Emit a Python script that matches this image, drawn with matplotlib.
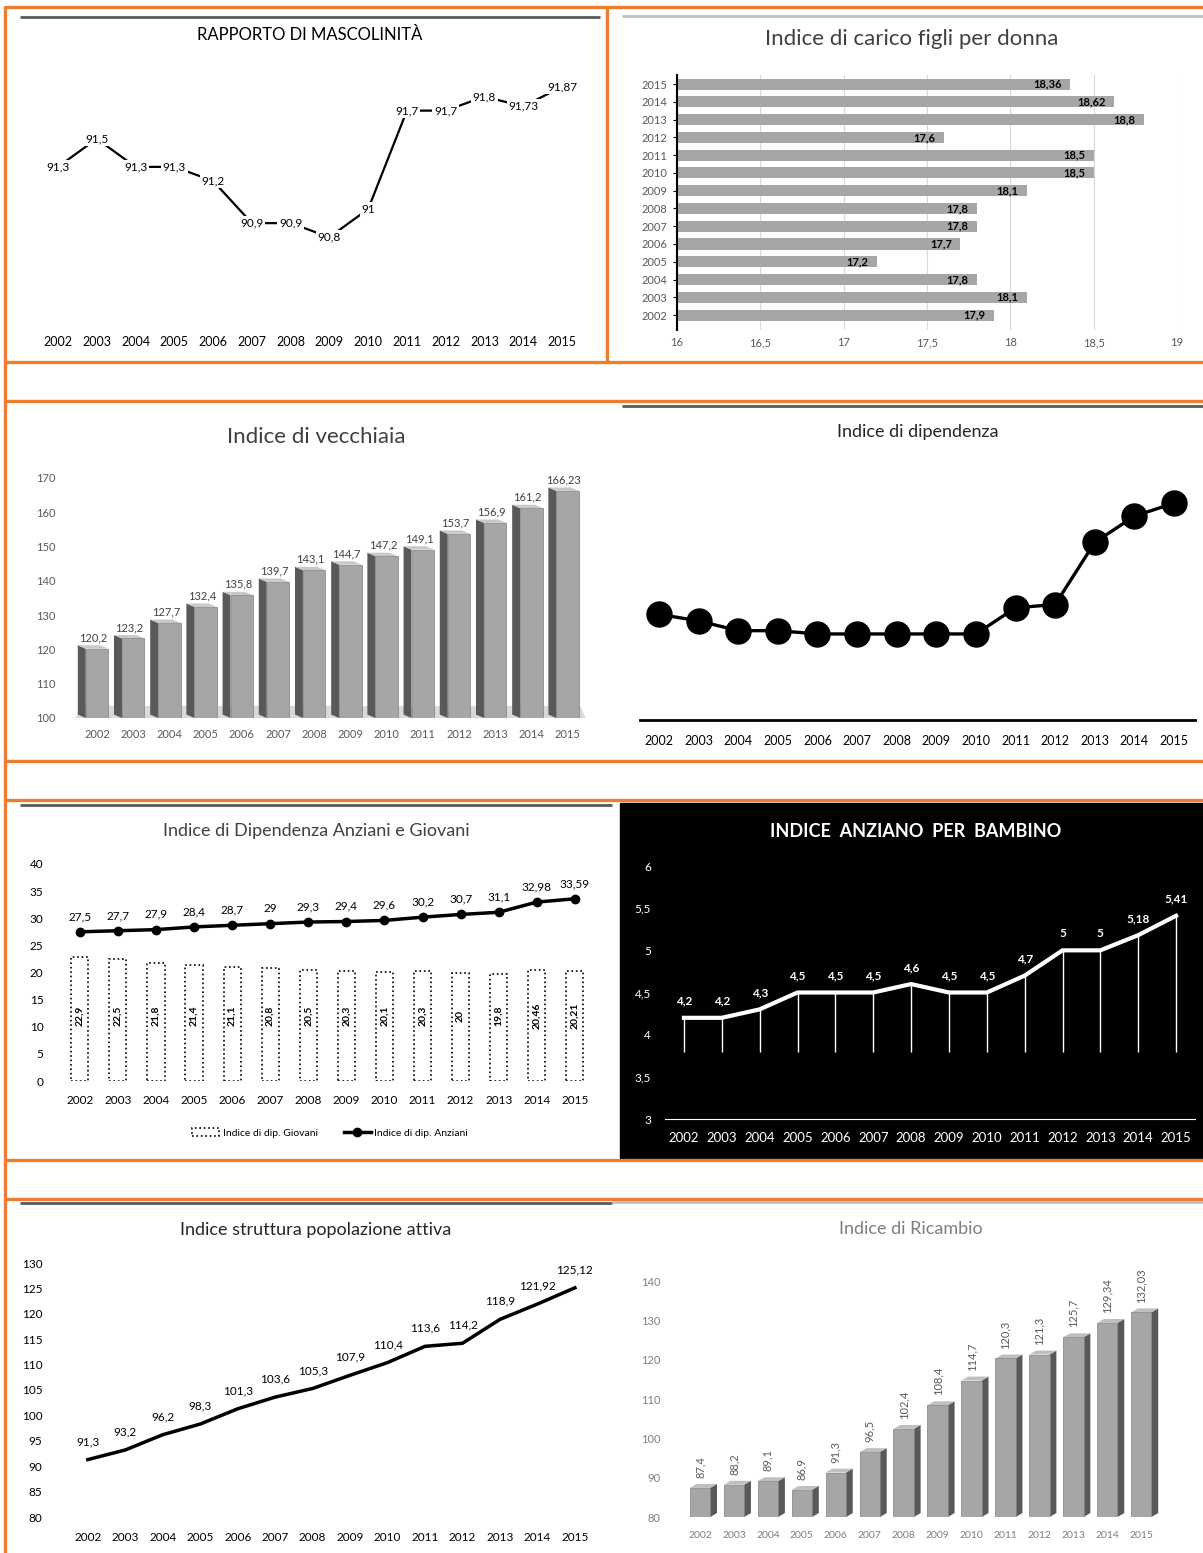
import numpy as np
import matplotlib
matplotlib.use("Agg")
import matplotlib.pyplot as plt
from matplotlib.lines import Line2D
from matplotlib.patches import Polygon, Rectangle
from matplotlib.ticker import FuncFormatter

plt.rcParams['font.family'] = ['Lato', 'DejaVu Sans']

# --- dati ---
anni = ['2002', '2003', '2004', '2005', '2006', '2007', '2008',
        '2009', '2010', '2011', '2012', '2013', '2014', '2015']

mascolinita = [91.3, 91.5, 91.3, 91.3, 91.2, 90.9, 90.9,
               90.8, 91.0, 91.7, 91.7, 91.8, 91.73, 91.87]

figli_donna = [17.9, 18.1, 17.8, 17.2, 17.7, 17.8, 17.8,
               18.1, 18.5, 18.5, 17.6, 18.8, 18.62, 18.36]
figli_ticks = [16, 16.5, 17, 17.5, 18, 18.5, 19]

vecchiaia = [120.2, 123.2, 127.7, 132.4, 135.8, 139.7, 143.1,
             144.7, 147.2, 149.1, 153.7, 156.9, 161.2, 166.23]

dipendenza = [50.3, 50.1, 49.8, 49.8, 49.7, 49.7, 49.7,
              49.7, 49.7, 50.5, 50.6, 52.5, 53.3, 53.7]

dip_anziani = [27.5, 27.7, 27.9, 28.4, 28.7, 29, 29.3,
               29.4, 29.6, 30.2, 30.7, 31.1, 32.98, 33.59]
dip_giovani = [22.9, 22.5, 21.8, 21.4, 21.1, 20.8, 20.5,
               20.3, 20.1, 20.3, 20, 19.8, 20.46, 20.21]

anziano_bambino = [4.2, 4.2, 4.3, 4.5, 4.5, 4.5, 4.6,
                   4.5, 4.5, 4.7, 5, 5, 5.18, 5.41]

struttura_attiva = [91.3, 93.2, 96.2, 98.3, 101.3, 103.6, 105.3,
                    107.9, 110.4, 113.6, 114.2, 118.9, 121.92, 125.12]

ricambio = [87.4, 88.2, 89.1, 86.9, 91.3, 96.5, 102.4,
            108.4, 114.7, 120.3, 121.3, 125.7, 129.34, 132.03]

W, H = 1203, 1553
ARANCIO = '#ED7D31'

fig = plt.figure(figsize=(W / 100, H / 100), dpi=100)
fig.patch.set_facecolor('white')


def axes_px(x0, y0, x1, y1, **kw):
    return fig.add_axes([x0 / W, 1 - y1 / H, (x1 - x0) / W, (y1 - y0) / H], **kw)


def line_px(x0, y0, x1, y1, color, lw):
    fig.add_artist(Line2D([x0 / W, x1 / W], [1 - y0 / H, 1 - y1 / H],
                          color=color, lw=lw, transform=fig.transFigure,
                          solid_capstyle='butt'))


def titolo(x, y, s, **kw):
    fig.text(x / W, 1 - y / H, s, ha='center', va='center', **kw)


def fmt(v):
    return f"{v:g}".replace('.', ',')


virgola = FuncFormatter(lambda v, p: fmt(round(v, 2)))


def pulisci(ax, spines=()):
    for k, s in ax.spines.items():
        s.set_visible(k in spines)


def barre_3d(ax, x, vals, base, w, dx, dy, front, side, top):
    for xi, v in zip(x, vals):
        xl, xr = xi - w / 2, xi + w / 2
        edge = xr if dx > 0 else xl
        ax.add_patch(Polygon([(edge, base), (edge, v), (edge + dx, v + dy),
                              (edge + dx, base + dy)], fc=side, ec='none', zorder=2))
        ax.add_patch(Polygon([(xl, v), (xr, v), (xr + dx, v + dy), (xl + dx, v + dy)],
                             fc=top, ec='none', zorder=2))
    ax.bar(x, [v - base for v in vals], bottom=base, width=w, color=front,
           edgecolor='#808080', lw=0.5, zorder=3)


x = np.arange(len(anni))

# --- cornici arancioni e linee grigie ---
fig.add_artist(Rectangle((620 / W, 1 - 1158 / H), (W - 620) / W, (1158 - 803) / H,
                         color='black', transform=fig.transFigure, zorder=0))
for yy in [7, 362, 401, 761, 800, 1160, 1199]:
    line_px(4, yy, W, yy, ARANCIO, 2.4)
line_px(5, 6, 5, H, ARANCIO, 2.4)
line_px(607, 6, 607, 362, ARANCIO, 2.4)
line_px(20, 17, 600, 17, '#595959', 2)
line_px(622, 16, W, 16, '#bfbfbf', 2)
line_px(622, 406, W, 406, '#595959', 2)
line_px(20, 805, 612, 805, '#595959', 2)
line_px(20, 1203, 612, 1203, '#595959', 2)
line_px(612, 1202, W, 1202, '#bfbfbf', 2)

# --- Rapporto di mascolinità ---
titolo(310, 35, 'RAPPORTO DI MASCOLINITÀ', fontsize=12, color='black')
ax = axes_px(20, 60, 600, 330)
ax.plot(x, mascolinita, color='black', lw=1.6, zorder=1)
for xi, v in zip(x, mascolinita):
    ax.text(xi, v, fmt(v), ha='center', va='center', fontsize=8.5,
            bbox=dict(fc='white', ec='none', pad=1.2), zorder=3)
ax.set_xlim(-0.98, 13.98)
ax.set_ylim(90.14, 92.06)
ax.set_xticks(x, anni, fontsize=9)
ax.set_yticks([])
ax.tick_params(axis='x', length=0, pad=4)
pulisci(ax)

# --- Indice di carico figli per donna ---
titolo(912, 39, 'Indice di carico figli per donna', fontsize=16, color='#404040')
ax = axes_px(677, 75, 1177, 330)
ax.barh(x, figli_donna, height=0.62, color='#a6a6a6', zorder=2)
for yi, v in zip(x, figli_donna):
    ax.text(v - 0.05, yi, fmt(v), ha='right', va='center', fontsize=8,
            fontweight='bold', zorder=3)
ax.set_xlim(16, 19)
ax.set_ylim(-0.84, 13.51)
ax.set_xticks(figli_ticks)
ax.xaxis.set_major_formatter(virgola)
ax.set_yticks(x, anni)
ax.xaxis.grid(True, color='#d9d9d9', lw=0.8)
ax.set_axisbelow(True)
ax.tick_params(axis='x', length=0, labelsize=8, labelcolor='#595959', pad=5)
ax.tick_params(axis='y', length=3, labelsize=8, labelcolor='#595959', pad=4)
pulisci(ax, ['left'])
ax.spines['left'].set_linewidth(1.5)

# --- Indice di vecchiaia ---
titolo(316, 437, 'Indice di vecchiaia', fontsize=16, color='#404040')
ax = axes_px(72, 478, 590, 718)
ax.add_patch(Polygon([(-0.6, 100), (13.5, 100), (13.35, 103.5), (-0.4, 103.5)],
                     fc='#d9d9d9', ec='none', zorder=1))
barre_3d(ax, x, vecchiaia, 100, 0.62, -0.22, 1.0, '#a6a6a6', '#595959', '#c8c8c8')
for xi, v in zip(x, vecchiaia):
    ax.text(xi - 0.1, v + 1.6, fmt(v), ha='center', va='bottom', fontsize=8,
            color='#404040', zorder=4)
ax.set_xlim(-0.69, 13.62)
ax.set_ylim(100, 170)
ax.set_yticks(range(100, 171, 10))
ax.set_xticks(x, anni)
ax.tick_params(length=0, labelsize=8, labelcolor='#595959')
ax.tick_params(axis='y', pad=12)
ax.tick_params(axis='x', pad=8)
pulisci(ax)

# --- Indice di dipendenza ---
titolo(918, 432, 'Indice di dipendenza', fontsize=13, color='#262626')
ax = axes_px(640, 455, 1195, 720)
ax.plot(x, dipendenza, color='black', lw=2.4, marker='o', ms=18)
ax.set_xlim(-0.48, 13.53)
ax.set_ylim(47.07, 55.17)
ax.set_yticks([])
ax.set_xticks(x, anni, fontsize=9)
ax.tick_params(axis='x', length=0, pad=11)
pulisci(ax, ['bottom'])
ax.spines['bottom'].set_linewidth(2)

# --- Indice di Dipendenza Anziani e Giovani ---
titolo(316, 831, 'Indice di Dipendenza Anziani e Giovani', fontsize=13, color='#404040')
ax = axes_px(60, 864, 600, 1081)
barre = ax.bar(x, dip_giovani, width=0.45, fc='white', ec='black', ls=':', lw=1.2,
               zorder=2)
for xi, v in zip(x, dip_giovani):
    ax.text(xi, 12, fmt(v), ha='center', va='center', rotation=90, fontsize=7.5,
            fontweight='bold', zorder=3)
linea, = ax.plot(x, dip_anziani, color='black', lw=2.5, marker='o', ms=6, zorder=4)
for xi, v in zip(x, dip_anziani):
    ax.annotate(fmt(v), (xi, v), xytext=(0, 7), textcoords='offset points',
                ha='center', va='bottom', fontsize=8.5)
ax.set_xlim(-0.52, 13.66)
ax.set_ylim(0, 40)
ax.set_yticks(range(0, 41, 5))
ax.set_xticks(x, anni)
ax.tick_params(length=0, labelsize=8.5)
ax.tick_params(axis='y', pad=12)
ax.tick_params(axis='x', pad=10)
pulisci(ax)
ax.legend([barre, linea], ['Indice di dip. Giovani', 'Indice di dip. Anziani'],
          loc='center', bbox_to_anchor=(330 / W, 1 - 1133 / H),
          bbox_transform=fig.transFigure, ncol=2, frameon=False, fontsize=7.5,
          handlelength=2.6, columnspacing=2.5, handletextpad=0.3)

# --- Indice anziano per bambino ---
titolo(916, 831, 'INDICE  ANZIANO  PER  BAMBINO', fontsize=13, color='white',
       fontweight='bold')
ax = axes_px(665, 866, 1195, 1119, facecolor='none')
ax.vlines(x, 3.8, anziano_bambino, colors='white', lw=1)
ax.plot(x, anziano_bambino, color='white', lw=3)
for xi, v in zip(x, anziano_bambino):
    ax.annotate(fmt(v), (xi, v), xytext=(0, 8), textcoords='offset points',
                ha='center', va='bottom', fontsize=8.5, color='white',
                fontweight='bold')
ax.set_xlim(-0.5, 13.5)
ax.set_ylim(3, 6)
ax.set_yticks(np.arange(3, 6.01, 0.5))
ax.yaxis.set_major_formatter(virgola)
ax.set_xticks(x, anni)
ax.tick_params(length=0, labelsize=8.5, labelcolor='white')
ax.tick_params(axis='y', pad=10)
ax.tick_params(axis='x', pad=9, labelsize=9.5)
pulisci(ax, ['bottom'])
ax.spines['bottom'].set_color('white')

# --- Indice struttura popolazione attiva ---
titolo(316, 1230, 'Indice struttura popolazione attiva', fontsize=13, color='#262626')
ax = axes_px(62, 1263, 600, 1517)
ax.plot(x, struttura_attiva, color='black', lw=2.5)
for xi, v in zip(x, struttura_attiva):
    ax.annotate(fmt(v), (xi, v), xytext=(0, 9), textcoords='offset points',
                ha='center', va='bottom', fontsize=8.5)
ax.set_xlim(-0.69, 13.67)
ax.set_ylim(80, 130)
ax.set_yticks(range(80, 131, 5))
ax.set_xticks(x, anni)
ax.tick_params(length=0, labelsize=8.5)
ax.tick_params(axis='y', pad=14)
ax.tick_params(axis='x', pad=11)
pulisci(ax)

# --- Indice di Ricambio ---
titolo(911, 1229, 'Indice di Ricambio', fontsize=13, color='#7f7f7f')
ax = axes_px(680, 1281, 1165, 1517)
barre_3d(ax, x, ricambio, 80, 0.6, 0.2, 1.0, '#a6a6a6', '#595959', '#bfbfbf')
for xi, v in zip(x, ricambio):
    ax.text(xi, v + 2.5, fmt(v), ha='center', va='bottom', rotation=90,
            fontsize=8, color='#595959')
ax.set_xlim(-0.59, 13.7)
ax.set_ylim(80, 140)
ax.set_yticks(range(80, 141, 10))
ax.set_xticks(x, anni)
ax.tick_params(length=0, labelsize=8, labelcolor='#7f7f7f')
ax.tick_params(axis='y', pad=14)
ax.tick_params(axis='x', pad=10, labelsize=7.5)
pulisci(ax)

fig.savefig('out.png', dpi=100)
